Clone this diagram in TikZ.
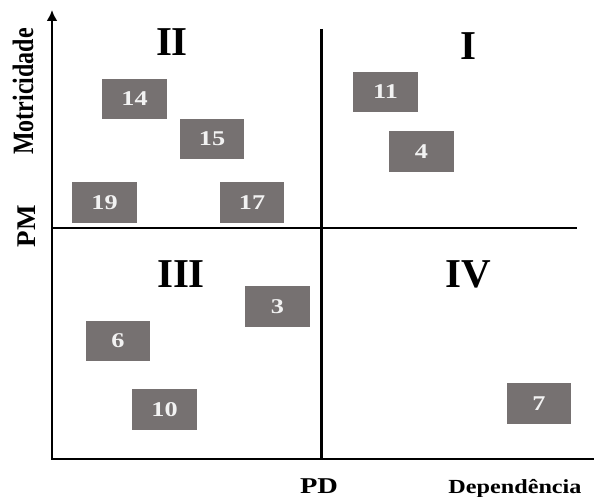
\documentclass[tikz,border=0pt]{standalone}
\usepackage{fontspec}
\usepackage{graphicx}
\setmainfont{Liberation Serif}
\usetikzlibrary{arrows.meta}
\definecolor{boxgray}{HTML}{767171}
\definecolor{numwhite}{HTML}{F2F2F2}
\newcommand\hsq[2]{\scalebox{#1}[1]{#2}}
\newcommand\nbx[1]{\scalebox{1.25}[1]{#1}}
\tikzset{
  axisline/.style={line width=2.6pt, line join=miter, black},
  numbox/.style={fill=boxgray, minimum width=64.5pt, minimum height=40.5pt, inner sep=0pt,
    text=numwhite, font=\fontsize{21}{21}\selectfont\bfseries},
  quadlabel/.style={anchor=base, inner sep=0pt, font=\fontsize{41}{41}\selectfont\bfseries},
  axlabel/.style={anchor=base, inner sep=0pt},
}
\begin{document}
\begin{tikzpicture}[x=1pt,y=-1pt]
\useasboundingbox[fill=white] (0,0) rectangle (594,497);
% axes
\coordinate (O) at (52,459);
\coordinate (ytip) at (52,10);
\coordinate (xend) at (596,459);
\coordinate (vtop) at (321.5,29);
\coordinate (vbot) at (321.5,459);
\coordinate (hleft) at (52,228);
\coordinate (hright) at (577,228);
\draw[axisline] (ytip) ++(0,8) -- (O) -- (xend);
\draw[axisline, -{Latex[length=11pt,width=11pt]}] (O) -- (ytip);
\draw[axisline] (vtop) -- (vbot);
\draw[axisline] (hleft) -- (hright);
% quadrant labels
\node[quadlabel] (qI) at (468.5,60) {I};
\node[quadlabel] (qII) at (172,56) {II};
\node[quadlabel] (qIII) at (181,287) {III};
\node[quadlabel] (qIV) at (468,287) {IV};
% boxes
\node[numbox] (b14) at (134.5,99) {\nbx{14}};
\node[numbox] (b15) at (212,139) {\nbx{15}};
\node[numbox] (b19) at (104.5,202.5) {\nbx{19}};
\node[numbox] (b17) at (252,202.5) {\nbx{17}};
\node[numbox] (b11) at (385.5,92) {\nbx{11}};
\node[numbox] (b4) at (421.5,151.5) {\nbx{4}};
\node[numbox] (b3) at (277.5,306.5) {\nbx{3}};
\node[numbox] (b6) at (118,341) {\nbx{6}};
\node[numbox] (b10) at (164.5,409.5) {\nbx{10}};
\node[numbox] (b7) at (539,403.5) {\nbx{7}};
% axis labels
\node[axlabel] (pd) at (319,493) {\fontsize{22.6}{22.6}\selectfont\bfseries\hsq{1.26}{PD}};
\node[axlabel] (dep) at (515,493) {\fontsize{20}{20}\selectfont\bfseries\hsq{1.21}{Dependência}};
\node[axlabel, rotate=90] (mot) at (33,91.5) {\fontsize{24}{24}\selectfont\bfseries\scalebox{1}[1.23]{Motricidade}};
\node[axlabel, rotate=90] (pm) at (35,226.5) {\fontsize{27}{27}\selectfont\bfseries PM};
\end{tikzpicture}
\end{document}
